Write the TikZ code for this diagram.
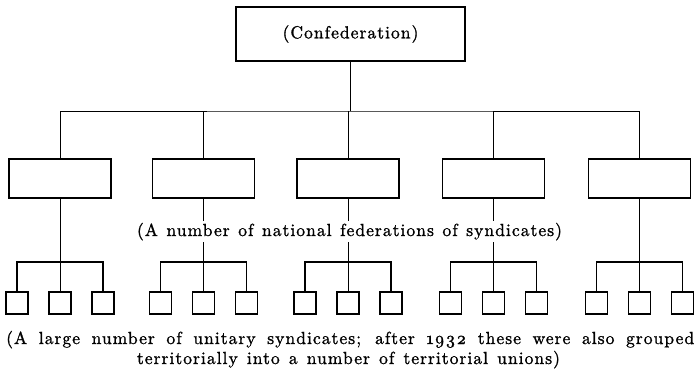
\documentclass[tikz,border=0pt]{standalone}
\usepackage{fontspec}
\newfontfamily\lbl{lmroman10-regular.otf}[LetterSpace=6,Numbers=OldStyle,FakeBold=1.2]
\begin{document}
\begin{tikzpicture}[x=1pt,y=-1pt,
  txt/.style={font=\lbl\fontsize{17.5}{21}\selectfont, inner sep=0pt},
  bigbox/.style={draw, line width=1.3pt, minimum width=229pt, minimum height=54pt, inner sep=0pt},
  fedbox/.style={draw, line width=1.3pt, minimum width=102pt, minimum height=39pt, inner sep=0pt},
  unitbox/.style={draw, line width=1.2pt, minimum width=22pt, minimum height=22pt, inner sep=0pt},
  link/.style={line width=1pt},
  glink/.style={line width=1.3pt}]
\useasboundingbox (0,0) rectangle (697,372);
\fill[white] (0,0) rectangle (697,372);

% top
\node[bigbox, txt] (conf) at (350.5,34) {(Confederation)};
\coordinate (hub) at (350.5,111);

% federations
\foreach \i/\x in {1/60,2/203.5,3/348,4/493.5,5/639.5}{
  \node[fedbox] (f\i) at (\x,178.5) {};
  \coordinate (g\i) at (\x,262);
  \node[unitbox] (u\i a) at (\x-43,303) {};
  \node[unitbox] (u\i b) at (\x,303) {};
  \node[unitbox] (u\i c) at (\x+43,303) {};
}

% connectors
\draw[link] (conf.south) -- (hub);
\draw[link] (f1.north) |- (hub) -| (f5.north);
\foreach \i in {2,3,4}{ \draw[link] (f\i.north) -- (f\i.north |- hub); }
\foreach \i in {1,...,5}{
  \draw[link] (f\i.south) -- (g\i);
  \draw[glink] (u\i a.north) |- (g\i) -| (u\i c.north);
  \draw[link] (u\i b.north) -- (g\i);
}

% labels
\node[txt, fill=white, inner xsep=0pt, inner ysep=2pt, anchor=base] (fedlabel) at (349.5,236)
  {\makebox[425pt][s]{(A number of national federations of syndicates)}};
\node[txt, anchor=base west] (cap1) at (6,344)
  {\makebox[688pt][s]{(A large number of unitary syndicates; after 1932 these were also grouped}};
\node[txt, anchor=base] (cap2) at (348.5,364)
  {\makebox[423pt][s]{territorially into a number of territorial unions)}};
\end{tikzpicture}
\end{document}
